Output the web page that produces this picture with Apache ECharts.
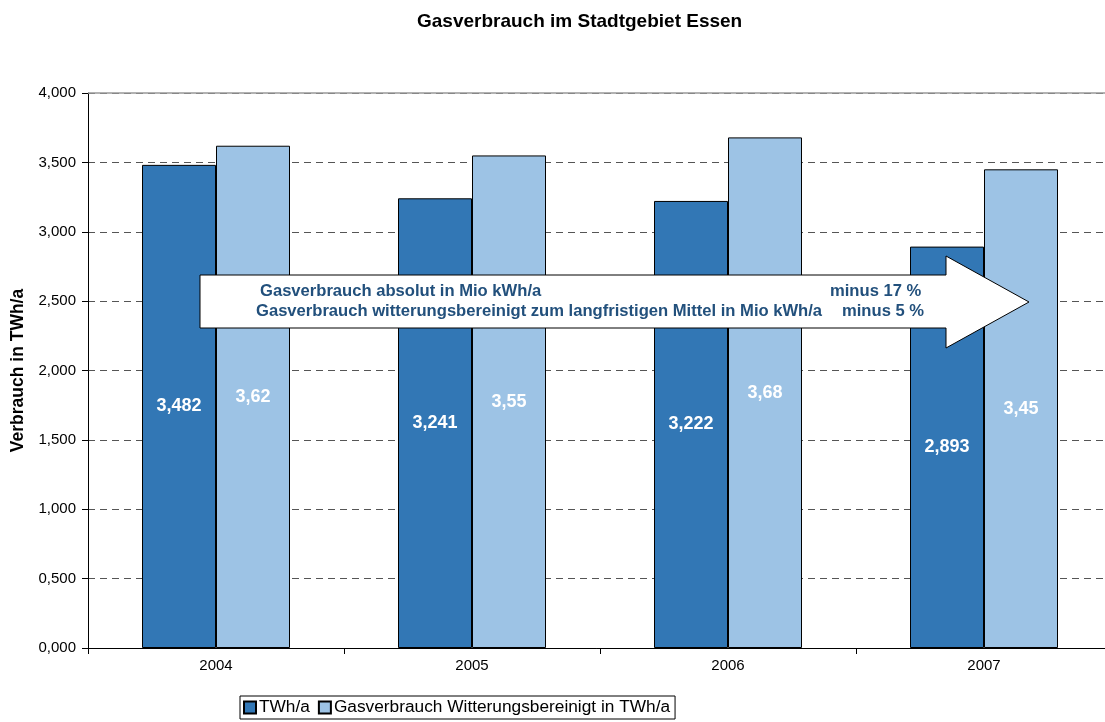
<!DOCTYPE html>
<html><head><meta charset="utf-8">
<script src="https://cdn.jsdelivr.net/npm/echarts@6/dist/echarts.min.js"></script>
<style>html,body{margin:0;padding:0;background:#fff}#c{width:1105px;height:722px}</style>
</head><body><div id="c"></div>
<script>
const categories = ['2004','2005','2006','2007'];
const absolut = [3.482, 3.241, 3.222, 2.893];
const bereinigt = [3.62, 3.55, 3.68, 3.45];
const yTicks = [0, 0.5, 1, 1.5, 2, 2.5, 3, 3.5, 4];
const seriesNames = ['TWh/a', 'Gasverbrauch Witterungsbereinigt in TWh/a'];
const titleText = 'Gasverbrauch im Stadtgebiet Essen';
const yName = 'Verbrauch in TWh/a';
const arrowLines = [
  ['Gasverbrauch absolut in Mio kWh/a', 'minus 17 %'],
  ['Gasverbrauch witterungsbereinigt zum langfristigen Mittel in Mio kWh/a', 'minus 5 %']
];

const FONT = 'Liberation Sans, Arial, sans-serif';
const chart = echarts.init(document.getElementById('c'));
const fmt = v => String(v).replace('.', ',');

chart.setOption({
  animation: false,
  textStyle: { fontFamily: FONT },
  title: { text: titleText, left: 412, top: 7,
    textStyle: { fontSize: 19, fontWeight: 'bold', color: '#000', fontFamily: FONT } },
  grid: { left: 88, top: 93, right: -7, bottom: 74, containLabel: false, outerBoundsMode: 'none' },
  legend: {
    left: 240, top: 696, itemWidth: 12, itemHeight: 12, itemGap: 8,
    borderColor: '#000', borderWidth: 1, padding: [3, 5, 3, 3],
    textStyle: { fontSize: 17.3, color: '#000', fontFamily: FONT, padding: [0, 0, 0, -2] },
    icon: 'rect',
    data: seriesNames
  },
  xAxis: {
    type: 'category', data: categories,
    axisLine: { lineStyle: { color: '#000', width: 1 } },
    axisTick: { show: true, alignWithLabel: false, length: 6, lineStyle: { color: '#000' } },
    axisLabel: { fontSize: 15, color: '#000', margin: 10, fontFamily: FONT }
  },
  yAxis: {
    type: 'value', min: 0, max: 4, interval: 0.5,
    name: yName, nameLocation: 'middle', nameGap: 61,
    nameTextStyle: { fontSize: 17.5, fontWeight: 'bold', color: '#000', fontFamily: FONT },
    axisLine: { show: true, lineStyle: { color: '#000', width: 1 } },
    axisTick: { show: true, inside: false, length: 6, lineStyle: { color: '#000' } },
    axisLabel: { fontSize: 15, color: '#000', margin: 12, fontFamily: FONT,
      formatter: v => v.toFixed(3).replace('.', ',') },
    splitLine: { show: true, lineStyle: { color: '#555', type: [7, 5], width: 1 } }
  },
  series: [
    {
      name: seriesNames[0], type: 'bar', data: absolut, barWidth: 74, barGap: '0%',
      itemStyle: { color: '#3277B5', borderColor: '#000', borderWidth: 1 },
      label: { show: true, position: 'inside', formatter: p => fmt(p.value),
        color: '#fff', fontSize: 18, fontWeight: 'bold', fontFamily: FONT },
      markLine: { silent: true, symbol: 'none', label: { show: false },
        lineStyle: { color: '#999', type: 'solid', width: 1.5 },
        data: [{ yAxis: 4 }] }
    },
    {
      name: seriesNames[1], type: 'bar', data: bereinigt, barWidth: 74,
      itemStyle: { color: '#9DC3E5', borderColor: '#000', borderWidth: 1 },
      label: { show: true, position: 'inside', formatter: p => fmt(p.value),
        color: '#fff', fontSize: 18, fontWeight: 'bold', fontFamily: FONT }
    }
  ],
  graphic: [
    { type: 'polygon', z: 100,
      shape: { points: [[200,275],[946,275],[946,256],[1029,302],[946,348],[946,328],[200,328]] },
      style: { fill: '#fff', stroke: '#000', lineWidth: 1 } },
    { type: 'text', z: 101, left: 260, top: 283,
      style: { text: arrowLines[0][0], fill: '#22507C', font: 'bold 16.6px ' + FONT } },
    { type: 'text', z: 101, left: 830, top: 283,
      style: { text: arrowLines[0][1], fill: '#22507C', font: 'bold 16.6px ' + FONT } },
    { type: 'text', z: 101, left: 256, top: 303,
      style: { text: arrowLines[1][0], fill: '#22507C', font: 'bold 16.6px ' + FONT } },
    { type: 'text', z: 101, left: 842, top: 303,
      style: { text: arrowLines[1][1], fill: '#22507C', font: 'bold 16.6px ' + FONT } }
  ]
});
</script></body></html>
